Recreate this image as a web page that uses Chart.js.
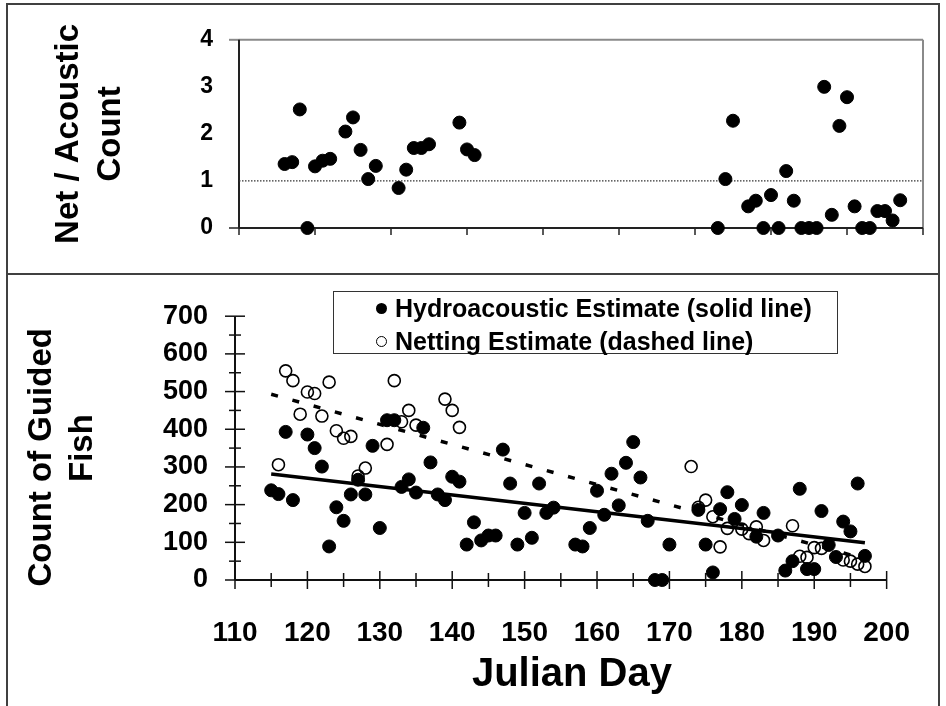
<!DOCTYPE html>
<html>
<head>
<meta charset="utf-8">
<script src="https://cdn.jsdelivr.net/npm/chart.js@4.4.1/dist/chart.umd.min.js"></script>
<style>
  body { margin: 0; background: #fff; width: 946px; height: 706px; overflow: hidden; position: relative;
         font-family: "Liberation Sans", Arial, sans-serif; }
  .panel { position: absolute; box-sizing: border-box; border: 2px solid #404040; }
  #topCanvas { position: absolute; left: 0; top: 0; }
  #botCanvas { position: absolute; left: 0; top: 273px; }
  .legend { position: absolute; left: 333px; top: 291px; width: 505px; height: 63px; box-sizing: border-box;
            border: 1.5px solid #333; background: #fff; }
  .legend .row { position: absolute; left: 42px; height: 30px; display: flex; align-items: center;
                 font-weight: bold; font-size: 25px; color: #000; white-space: nowrap; }
  .legend .dot { width: 11px; height: 11px; border-radius: 50%; box-sizing: border-box; margin-right: 8px; }
</style>
</head>
<body>
<div class="panel" style="left:6px;top:3px;width:934px;height:272px"></div>
<div class="panel" style="left:6px;top:273px;width:934px;height:500px"></div>
<canvas id="topCanvas" width="946" height="270"></canvas>
<canvas id="botCanvas" width="946" height="433"></canvas>
<div class="legend">
  <div class="row" style="top:1.5px"><span class="dot" style="background:#000"></span>Hydroacoustic Estimate (solid line)</div>
  <div class="row" style="top:34.5px"><span class="dot" style="border:1.5px solid #000"></span>Netting Estimate (dashed line)</div>
</div>
<script>
// top panel: net count / acoustic count by day
const ratioDays = [116, 117, 118, 119, 120, 121, 122, 124, 125, 126, 127, 128, 131, 132, 133, 134, 135, 139, 140, 141,
  173, 174, 175, 177, 178, 179, 180, 181, 182, 183, 184, 185, 186, 187, 188, 189, 190, 191, 192, 193, 194, 195, 196, 197];
const ratioValues = [1.36, 1.40, 2.52, 0, 1.31, 1.43, 1.47, 2.05, 2.35, 1.66, 1.04, 1.32, 0.85, 1.24, 1.70, 1.70, 1.78, 2.24, 1.67, 1.55,
  0, 1.04, 2.28, 0.46, 0.58, 0, 0.70, 0, 1.21, 0.58, 0, 0, 0, 3.0, 0.28, 2.17, 2.78, 0.46, 0, 0, 0.36, 0.36, 0.16, 0.59];
const ratioRefLevel = 1;

// bottom panel: count of guided fish
const hydroDays = [115, 116, 117, 118, 120, 121, 122, 123, 124, 125, 126, 127, 128, 129, 130, 131, 132, 133, 134, 135,
  136, 137, 138, 139, 140, 141, 142, 143, 144, 145, 146, 147, 148, 149, 150, 151, 152, 153, 154, 157, 158, 159, 160,
  161, 162, 163, 164, 165, 166, 167, 168, 169, 170, 174, 175, 176, 177, 178, 179, 180, 182, 183, 185, 186, 187, 188,
  189, 190, 191, 192, 193, 194, 195, 196, 197];
const hydroCounts = [238, 228, 393, 212, 386, 350, 301, 89, 193, 157, 227, 266, 227, 356, 138, 424, 424, 247, 267, 232,
  404, 312, 227, 212, 274, 261, 94, 153, 105, 118, 118, 346, 256, 94, 178, 112, 256, 178, 192, 94, 89, 138, 237,
  173, 282, 198, 311, 366, 272, 157, 0, 0, 94, 186, 94, 20, 188, 233, 162, 199, 115, 178, 118, 25, 50, 242,
  29, 29, 183, 93, 61, 155, 129, 256, 64];
const netDays = [116, 117, 118, 119, 120, 121, 122, 123, 124, 125, 126, 127, 128, 131, 132, 133, 134, 135, 139, 140, 141,
  173, 174, 175, 176, 177, 178, 180, 181, 182, 183, 187, 188, 189, 190, 191, 194, 195, 196, 197];
const netCounts = [306, 555, 529, 440, 499, 495, 435, 525, 396, 376, 381, 276, 297, 360, 529, 420, 450, 411, 480, 450, 405,
  301, 193, 212, 168, 88, 137, 135, 123, 141, 105, 144, 63, 60, 86, 84, 53, 50, 42, 36];

// fitted trend lines, end points
const hydroTrendDays = [115, 197];
const hydroTrendCounts = [281, 99];
const netTrendDays = [115, 197];
const netTrendCounts = [493, 56];

const dayTicks = [110, 120, 130, 140, 150, 160, 170, 180, 190, 200];
const dayMinorTicks = [115, 125, 135, 145, 155, 165, 175, 185, 195];
const ratioTicks = [0, 1, 2, 3, 4];
const countTicks = [0, 100, 200, 300, 400, 500, 600, 700];
const countMinorTicks = [50, 150, 250, 350, 450, 550, 650];

const FONT = '"Liberation Sans", Arial, sans-serif';
const pts = (xs, ys) => xs.map((d, i) => ({ x: d, y: ys[i] }));

// axis lines, frame and crossing tick marks, drawn through the chart scales
const axisMarks = {
  id: 'axisMarks',
  beforeDatasetsDraw(chart, args, o) {
    const { ctx, chartArea: a, scales: { x, y } } = chart;
    const seg = (x1, y1, x2, y2, color, w) => {
      ctx.beginPath(); ctx.strokeStyle = color; ctx.lineWidth = w;
      ctx.moveTo(x1, y1); ctx.lineTo(x2, y2); ctx.stroke();
    };
    ctx.save();
    if (o.frame) {
      seg(a.left, a.top, a.right, a.top, o.frame, 2);
      seg(a.right, a.top, a.right, a.bottom, o.frame, 2);
    }
    (o.xMarks || []).forEach(m => m.values.forEach(v => {
      const px = x.getPixelForValue(v);
      seg(px, a.bottom - m.up, px, a.bottom + m.down, o.color, 1.5);
    }));
    (o.yMarks || []).forEach(m => m.values.forEach(v => {
      const py = y.getPixelForValue(v);
      seg(a.left - m.left, py, a.left + m.right, py, m.color || o.color, m.width || 1.5);
    }));
    seg(a.left, a.top, a.left, a.bottom, o.color, 2);
    seg(a.left, a.bottom, a.right, a.bottom, o.color, 2);
    ctx.restore();
  }
};

// Top chart
new Chart(document.getElementById('topCanvas'), {
  type: 'scatter',
  data: {
    datasets: [{
      data: pts(ratioDays, ratioValues),
      backgroundColor: '#000', borderColor: '#000',
      pointRadius: 6.5, pointHoverRadius: 6.5, clip: false, order: 1
    }, {
      type: 'line',
      data: [{ x: dayTicks[0], y: ratioRefLevel }, { x: dayTicks[dayTicks.length - 1], y: ratioRefLevel }],
      borderColor: '#333', borderWidth: 1.2, borderDash: [1.5, 1.5], pointRadius: 0, order: 2
    }]
  },
  options: {
    responsive: false, animation: false, events: [],
    layout: { padding: { top: 32, right: 23, left: 0, bottom: 0 } },
    plugins: {
      legend: { display: false }, tooltip: { enabled: false },
      axisMarks: {
        color: '#222', frame: '#8a8a8a',
        xMarks: [{ values: dayTicks, up: 0, down: 7 }],
        yMarks: [{ values: [ratioTicks[0]], left: 10, right: 0 },
                 { values: [ratioTicks[ratioTicks.length - 1]], left: 10, right: 0, color: '#8a8a8a', width: 2 }]
      }
    },
    scales: {
      x: {
        type: 'linear', min: dayTicks[0], max: dayTicks[dayTicks.length - 1],
        grid: { display: false, drawTicks: false }, border: { display: false },
        ticks: { display: false, stepSize: 10 },
        afterFit: s => { s.height = 42; }
      },
      y: {
        min: ratioTicks[0], max: ratioTicks[ratioTicks.length - 1],
        grid: { display: false, drawTicks: false }, border: { display: false },
        ticks: { stepSize: 1, autoSkip: false, padding: 26, color: '#000', font: { family: FONT, size: 23, weight: 'bold' } },
        title: {
          display: true, text: ['Net / Acoustic', 'Count'], color: '#000',
          font: { family: FONT, size: 33, weight: 'bold', lineHeight: 1.27 },
          padding: { top: 48, bottom: 0 }
        },
        afterFit: s => { s.width = 239; }
      }
    }
  },
  plugins: [axisMarks]
});

// Bottom chart
new Chart(document.getElementById('botCanvas'), {
  type: 'scatter',
  data: {
    datasets: [{
      type: 'line', data: pts(hydroTrendDays, hydroTrendCounts),
      borderColor: '#000', borderWidth: 3.5, pointRadius: 0, order: 0
    }, {
      type: 'line', data: pts(netTrendDays, netTrendCounts),
      borderColor: '#000', borderWidth: 3.5, borderDash: [7, 15], pointRadius: 0, order: 0
    }, {
      data: pts(hydroDays, hydroCounts),
      backgroundColor: '#000', borderColor: '#000',
      pointRadius: 6.5, pointHoverRadius: 6.5, clip: false, order: 1
    }, {
      data: pts(netDays, netCounts),
      backgroundColor: 'rgba(255,255,255,0)', borderColor: '#000', borderWidth: 1.6,
      pointRadius: 6, pointHoverRadius: 6, clip: false, order: 2
    }]
  },
  options: {
    responsive: false, animation: false, events: [],
    layout: { padding: { top: 40, right: 31, left: 0, bottom: 0 } },
    plugins: {
      legend: { display: false }, tooltip: { enabled: false },
      axisMarks: {
        color: '#111',
        xMarks: [{ values: dayTicks, up: 9, down: 9 }, { values: dayMinorTicks, up: 7, down: 7 }],
        yMarks: [{ values: countTicks, left: 10, right: 10 }, { values: countMinorTicks, left: 6, right: 6 }]
      }
    },
    scales: {
      x: {
        type: 'linear', min: dayTicks[0], max: dayTicks[dayTicks.length - 1],
        grid: { display: false, drawTicks: false }, border: { display: false },
        ticks: { stepSize: 10, autoSkip: false, padding: 36, color: '#000', font: { family: FONT, size: 28, weight: 'bold' } },
        title: {
          // leading spaces nudge the centred title a bit to the right, as in the original
          display: true, text: '  Julian Day', color: '#000',
          font: { family: FONT, size: 40, weight: 'bold', lineHeight: 1.2 },
          padding: { top: 0, bottom: 7 }
        },
        afterFit: s => { s.height = 126; }
      },
      y: {
        min: countTicks[0], max: countTicks[countTicks.length - 1],
        grid: { display: false, drawTicks: false }, border: { display: false },
        ticks: { stepSize: 100, autoSkip: false, padding: 27, color: '#000', font: { family: FONT, size: 27, weight: 'bold' } },
        title: {
          display: true, text: ['Count of Guided  ', 'Fish'], color: '#000',
          font: { family: FONT, size: 33, weight: 'bold', lineHeight: 1.25 },
          padding: { top: 21, bottom: 0 }
        },
        afterFit: s => { s.width = 235; }
      }
    }
  },
  plugins: [axisMarks]
});
</script>
</body>
</html>
